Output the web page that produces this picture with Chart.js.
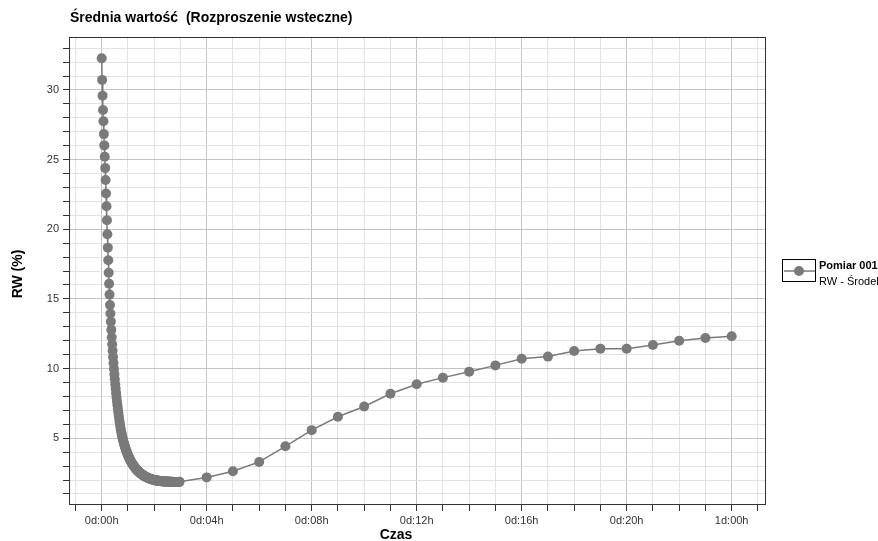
<!DOCTYPE html>
<html>
<head>
<meta charset="utf-8">
<script src="https://cdn.jsdelivr.net/npm/chart.js@4.4.1/dist/chart.umd.min.js"></script>
<style>
  html, body { margin: 0; padding: 0; background: #fff; }
  #wrap { width: 878px; height: 541px; }
</style>
</head>
<body>
<div id="wrap"><canvas id="rwChart" width="878" height="541"></canvas></div>
<script>
// RW (%) of the first scans, one scan per minute starting at 0d:00h
const scanStepMin = 1;
const denseRW = [
  32.28, 30.72, 29.59, 28.56, 27.75, 26.83, 26.02, 25.20, 24.39, 23.53,
  22.57, 21.65, 20.65, 19.64, 18.68, 17.77, 16.88, 16.09, 15.31, 14.57,
  13.95, 13.37, 12.78, 12.25, 11.75, 11.28, 10.83, 10.40, 9.99, 9.60,
  9.23, 8.88, 8.55, 8.23, 7.93, 7.64, 7.37, 7.11, 6.86, 6.62,
  6.39, 6.17, 5.96, 5.76, 5.57, 5.39, 5.24, 5.10, 4.97, 4.85,
  4.73, 4.62, 4.51, 4.41, 4.31, 4.21, 4.12, 4.03, 3.95, 3.87,
  3.79, 3.72, 3.65, 3.58, 3.51, 3.45, 3.39, 3.33, 3.27, 3.22,
  3.17, 3.12, 3.07, 3.03, 2.98, 2.94, 2.90, 2.86, 2.82, 2.78,
  2.75, 2.71, 2.68, 2.65, 2.62, 2.59, 2.56, 2.53, 2.50, 2.48,
  2.45, 2.43, 2.40, 2.38, 2.36, 2.34, 2.32, 2.30, 2.28, 2.26,
  2.24, 2.22, 2.21, 2.19, 2.18, 2.16, 2.15, 2.13, 2.12, 2.11,
  2.10, 2.08, 2.07, 2.06, 2.05, 2.04, 2.03, 2.02, 2.02, 2.01,
  2.00, 1.99, 1.99, 1.98, 1.97, 1.97, 1.96, 1.96, 1.95, 1.95,
  1.94, 1.94, 1.93, 1.93, 1.93, 1.92, 1.92, 1.92, 1.91, 1.91,
  1.91, 1.90, 1.90, 1.90, 1.90, 1.89, 1.89, 1.89, 1.89, 1.89,
  1.88, 1.88, 1.88, 1.88, 1.88, 1.87, 1.87, 1.87, 1.87, 1.87,
  1.87, 1.87, 1.86, 1.86, 1.86, 1.86, 1.86, 1.86, 1.86, 1.86,
  1.86, 1.86, 1.86, 1.86, 1.86, 1.86, 1.86, 1.87, 1.87
];

// later scans, once per hour
const hourlyHours = [4, 5, 6, 7, 8, 9, 10, 11, 12, 13, 14, 15, 16, 17, 18, 19, 20, 21, 22, 23, 24];
const hourlyRW = [2.19, 2.63, 3.30, 4.42, 5.58, 6.54, 7.28, 8.19, 8.88, 9.35, 9.78,
  10.23, 10.71, 10.86, 11.26, 11.43, 11.43, 11.69, 12.00, 12.20, 12.32];

const xLabelHours = [0, 4, 8, 12, 16, 20, 24];
const yLabelValues = [5, 10, 15, 20, 25, 30];

const chartTitle = 'Średnia wartość  (Rozproszenie wsteczne)';
const xTitle = 'Czas';
const yTitle = 'RW (%)';
const seriesName = 'Pomiar 001';
const seriesSub = 'RW - Środek';

const points = denseRW.map((v, i) => ({ x: i * scanStepMin / 60, y: v }))
  .concat(hourlyHours.map((h, i) => ({ x: h, y: hourlyRW[i] })));

function hourLabel(h) {
  const d = Math.floor(h / 24);
  const hh = h - d * 24;
  return d + 'd:' + String(hh).padStart(2, '0') + 'h';
}

const gray = '#7a7a7a';
const font = 'Arial, "Liberation Sans", sans-serif';

// frame, title, axis titles and legend
const decorations = {
  id: 'decorations',
  afterDraw(chart) {
    const c = chart.ctx;
    const a = chart.chartArea;
    c.save();
    c.strokeStyle = '#333';
    c.lineWidth = 1;
    c.strokeRect(Math.round(a.left) + 0.5, Math.round(a.top) + 0.5,
      Math.round(a.right - a.left), Math.round(a.bottom - a.top));

    c.fillStyle = '#000';
    c.font = 'bold 14px ' + font;
    c.textBaseline = 'alphabetic';
    c.textAlign = 'left';
    c.fillText(chartTitle, 70, 22);

    c.font = 'bold 14px ' + font;
    c.textAlign = 'center';
    c.fillText(xTitle, 396, 539);

    c.save();
    c.translate(22, 274);
    c.rotate(-Math.PI / 2);
    c.fillText(yTitle, 0, 0);
    c.restore();

    // legend
    c.strokeStyle = '#000';
    c.lineWidth = 1;
    c.strokeRect(782.5, 259.5, 33, 22);
    c.strokeStyle = gray;
    c.lineWidth = 1.5;
    c.beginPath();
    c.moveTo(784, 271);
    c.lineTo(815, 271);
    c.stroke();
    c.fillStyle = gray;
    c.beginPath();
    c.arc(799, 271, 5, 0, Math.PI * 2);
    c.fill();

    c.fillStyle = '#000';
    c.textAlign = 'left';
    c.font = 'bold 11px ' + font;
    c.fillText(seriesName, 819, 269);
    c.font = '11px ' + font;
    c.fillText(seriesSub, 819, 285);
    c.restore();
  }
};

const ctx = document.getElementById('rwChart').getContext('2d');
const rwChart = new Chart(ctx, {
  type: 'scatter',
  data: {
    datasets: [{
      label: seriesName,
      data: points,
      showLine: true,
      borderColor: gray,
      borderWidth: 1.5,
      backgroundColor: gray,
      pointBackgroundColor: gray,
      pointBorderWidth: 0,
      pointRadius: 5,
      tension: 0
    }]
  },
  options: {
    responsive: false,
    animation: false,
    events: [],
    layout: { padding: { top: 37, left: 0, right: 113, bottom: 0 } },
    plugins: {
      legend: { display: false },
      title: { display: false },
      tooltip: { enabled: false }
    },
    scales: {
      x: {
        type: 'linear',
        min: -1.245,
        max: 25.27,
        afterFit(scale) { scale.height = 37; },
        border: { display: false },
        grid: {
          color: (c) => (c.tick && c.tick.value % 4 === 0) ? '#c4c4c4' : '#e2e2e2',
          tickColor: '#333',
          tickLength: 7,
          lineWidth: 1
        },
        ticks: {
          stepSize: 1,
          autoSkip: false,
          includeBounds: false,
          maxRotation: 0,
          padding: 3,
          color: '#333',
          font: { family: font, size: 11 },
          callback: (v) => xLabelHours.includes(v) ? hourLabel(v) : ''
        }
      },
      y: {
        min: 0.28,
        max: 33.8,
        afterFit(scale) { scale.width = 69; },
        border: { display: false },
        grid: {
          color: (c) => (c.tick && c.tick.value % 5 === 0) ? '#c4c4c4' : '#e2e2e2',
          tickColor: '#333',
          tickLength: 6,
          lineWidth: 1
        },
        ticks: {
          stepSize: 1,
          autoSkip: false,
          includeBounds: false,
          padding: 4,
          color: '#333',
          font: { family: font, size: 11 },
          callback: (v) => yLabelValues.includes(v) ? String(v) : ''
        }
      }
    }
  },
  plugins: [decorations]
});
</script>
</body>
</html>
